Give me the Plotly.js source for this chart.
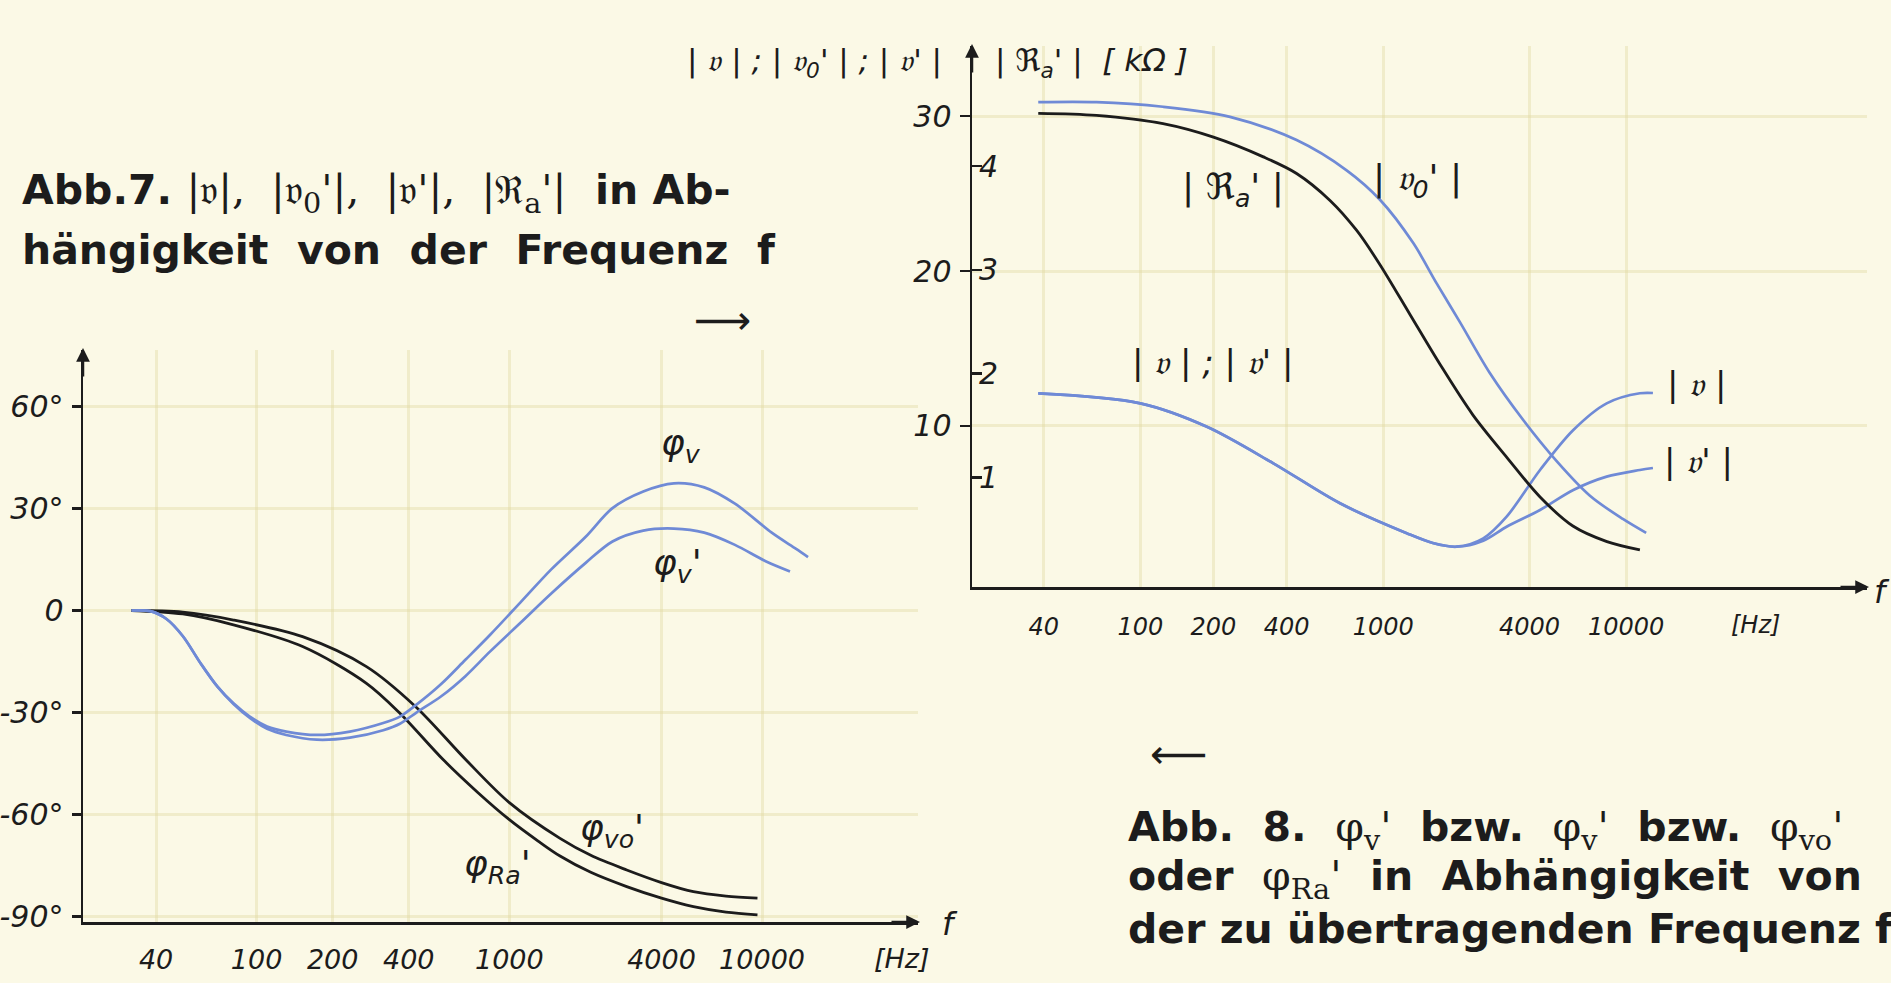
<!DOCTYPE html>
<html>
<head>
<meta charset="utf-8">
<script src="https://cdn.plot.ly/plotly-3.0.1.min.js"></script>
<style>
html,body{margin:0;padding:0;background:#fbf9e6;}
#chart{width:1891px;height:983px;}
</style>
</head>
<body>
<div id="chart"></div>
<script>
// ---------- Abb. 7 (left): phase angles vs frequency ----------
const tickFreqs = [40, 100, 200, 400, 1000, 4000, 10000];
const tickFreqLabels = ['40', '100', '200', '400', '1000', '4000', '10000'];

const phaseTicks = [60, 30, 0, -30, -60, -90];
const phaseTickLabels = ['60°', '30°', '0', '-30°', '-60°', '-90°'];

const fPhiRa = [32, 51, 81, 152, 272, 369, 548, 750, 1000, 1300, 1587, 2100, 2913, 4000, 5350, 7200, 9590];
const phiRa  = [0, -1.0, -4.2, -10.6, -21.4, -30.2, -43.9, -53.5, -61.5, -67.8, -72.2, -77.0, -81.2, -84.6, -87.1, -88.7, -89.5];

const fPhiVo = [32, 51, 81, 152, 272, 426, 673, 1000, 1587, 2100, 2913, 4000, 5350, 7200, 9590];
const phiVo  = [0, -0.5, -2.8, -7.7, -16.5, -28.3, -43.9, -56.5, -67.0, -72.0, -76.3, -80.0, -82.7, -84.0, -84.6];

const fPhiV = [32, 38, 44, 51, 60, 70, 81, 94, 110, 131, 173, 234, 317, 369, 429, 536, 670, 838, 1107, 1465, 2005, 2559, 3388, 4478, 5905, 7811, 10920, 13640, 15200];
const phiV  = [0, -0.2, -2.5, -7.5, -15.5, -22.4, -27.3, -31.2, -34.1, -35.6, -36.6, -35.6, -33.1, -31.2, -27.7, -21.7, -14.5, -7.2, 2.4, 12.1, 21.7, 30.1, 35.0, 37.4, 36.2, 31.4, 22.9, 18.1, 15.7];

const fPhiVp = [32, 38, 44, 51, 60, 70, 81, 94, 110, 131, 173, 234, 317, 369, 429, 536, 670, 838, 1107, 1465, 2005, 2559, 3388, 4478, 5905, 7811, 10330, 12900];
const phiVp  = [0, -0.2, -2.5, -7.5, -15.5, -22.4, -27.5, -31.6, -34.8, -36.6, -38.0, -37.4, -35.2, -33.3, -30.0, -25.3, -19.3, -12.1, -3.6, 5.0, 14.0, 20.3, 23.5, 24.1, 22.9, 19.3, 14.5, 11.5];

// ---------- Abb. 8 (right): magnitudes vs frequency ----------
const gainTicks = [10, 20, 30];
const resTicks = [1, 2, 3, 4];

const fRa = [38, 66, 124, 200, 321, 440, 604, 778, 970, 1289, 1713, 2343, 3234, 4424, 6040, 8340, 11400];
const Ra  = [4.51, 4.49, 4.41, 4.28, 4.09, 3.93, 3.67, 3.38, 3.05, 2.57, 2.09, 1.60, 1.19, 0.81, 0.53, 0.38, 0.30];

const fV0 = [38, 66, 124, 234, 440, 707, 970, 1330, 1660, 2070, 2752, 3765, 5200, 7100, 9700, 12100];
const V0  = [30.9, 30.9, 30.6, 29.95, 28.45, 26.5, 24.6, 21.8, 19.2, 16.7, 13.4, 10.4, 7.7, 5.5, 4.0, 3.1];

const fV = [38, 100, 188, 353, 664, 1250, 1600, 2008, 2583, 3223, 4424, 6065, 8318, 11400, 12900];
const V  = [12.1, 11.46, 9.95, 7.59, 5.01, 3.08, 2.45, 2.21, 2.75, 4.15, 7.16, 9.74, 11.46, 12.11, 12.13];

const fVp = [38, 100, 188, 353, 664, 1250, 1600, 2008, 2583, 3223, 4424, 6065, 8318, 11400, 12900];
const Vp  = [12.1, 11.46, 9.95, 7.59, 5.01, 3.08, 2.45, 2.21, 2.6, 3.5, 4.58, 5.87, 6.73, 7.16, 7.29];

// ---------- layout helpers ----------
const W = 1891, H = 983;
const px = x => x / W;
const py = y => 1 - y / H;

const BLUE = '#6f8ad6';
const INK = '#1c1c1c';
const HAND = 'DejaVu Sans';
const fr = '\u{1D533}'; // Fraktur v

const lineBlue = {color: BLUE, width: 2.7, shape: 'spline', smoothing: 0.9};
const lineBlack = {color: INK, width: 2.8, shape: 'spline', smoothing: 0.9};

const traces = [
  {x: fPhiRa, y: phiRa, xaxis: 'x', yaxis: 'y', mode: 'lines', line: lineBlack, name: 'φRa\''},
  {x: fPhiVo, y: phiVo, xaxis: 'x', yaxis: 'y', mode: 'lines', line: lineBlack, name: 'φvo\''},
  {x: fPhiVp, y: phiVp, xaxis: 'x', yaxis: 'y', mode: 'lines', line: lineBlue, name: 'φv\''},
  {x: fPhiV, y: phiV, xaxis: 'x', yaxis: 'y', mode: 'lines', line: lineBlue, name: 'φv'},
  {x: fRa, y: Ra, xaxis: 'x2', yaxis: 'y3', mode: 'lines', line: lineBlack, name: '|Ra\'|'},
  {x: fV0, y: V0, xaxis: 'x2', yaxis: 'y2', mode: 'lines', line: lineBlue, name: '|v0\'|'},
  {x: fVp, y: Vp, xaxis: 'x2', yaxis: 'y2', mode: 'lines', line: lineBlue, name: '|v\'|'},
  {x: fV, y: V, xaxis: 'x2', yaxis: 'y2', mode: 'lines', line: lineBlue, name: '|v|'}
];

const gridCol = 'rgba(225,218,160,0.4)';
const yTickFont = {family: HAND, size: 30, color: INK, style: 'italic'};
const xTickFontL = {family: HAND, size: 27, color: INK, style: 'italic'};
const xTickFontR = {family: HAND, size: 24, color: INK, style: 'italic'};

const layout = {
  width: W, height: H,
  margin: {l: 0, r: 0, t: 0, b: 0},
  paper_bgcolor: '#fbf9e6',
  plot_bgcolor: 'rgba(0,0,0,0)',
  showlegend: false,
  xaxis: {
    type: 'log', domain: [px(83), px(918)], range: [1.313, 4.617], anchor: 'y',
    showline: true, linecolor: INK, linewidth: 2.5, zeroline: false,
    showgrid: true, gridcolor: gridCol, gridwidth: 3,
    tickvals: tickFreqs, ticktext: tickFreqLabels, ticks: '', ticklabelstandoff: 12,
    tickfont: xTickFontL
  },
  yaxis: {
    domain: [py(922), py(350)], range: [-91.6, 76.6], anchor: 'x',
    showline: true, linecolor: INK, linewidth: 2.5, zeroline: false,
    showgrid: true, gridcolor: gridCol, gridwidth: 3,
    tickvals: phaseTicks, ticktext: phaseTickLabels, ticks: 'outside', ticklen: 9, tickwidth: 2.5, tickcolor: INK,
    ticklabelstandoff: 2, tickfont: yTickFont
  },
  xaxis2: {
    type: 'log', domain: [px(972), px(1867)], range: [1.307, 4.992], anchor: 'y2',
    showline: true, linecolor: INK, linewidth: 2.5, zeroline: false,
    showgrid: true, gridcolor: gridCol, gridwidth: 3,
    tickvals: tickFreqs, ticktext: tickFreqLabels, ticks: '', ticklabelstandoff: 17,
    tickfont: xTickFontR
  },
  yaxis2: {
    domain: [py(587), py(46)], range: [-0.39, 34.52], anchor: 'x2',
    showline: true, linecolor: INK, linewidth: 2.5, zeroline: false,
    showgrid: true, gridcolor: gridCol, gridwidth: 3,
    tickvals: gainTicks, ticks: 'outside', ticklen: 10, tickwidth: 2.5, tickcolor: INK,
    ticklabelstandoff: 2, tickfont: yTickFont
  },
  yaxis3: {
    domain: [py(587), py(46)], range: [-0.058, 5.159], anchor: 'x2', overlaying: 'y2', side: 'left',
    showline: false, zeroline: false, showgrid: false,
    tickvals: resTicks, ticks: 'inside', ticklen: 10, tickwidth: 2.5, tickcolor: INK,
    ticklabelposition: 'inside', tickfont: yTickFont
  },
  annotations: [],
  font: {family: HAND, color: INK}
};

const A = layout.annotations;
function label(text, x, y, size, opts) {
  A.push(Object.assign({
    text: text, xref: 'paper', yref: 'paper', x: px(x), y: py(y),
    showarrow: false, xanchor: 'center', yanchor: 'middle',
    font: {family: HAND, size: size, color: INK, style: 'italic'}
  }, opts || {}));
}
function arrow(x, y, ax, ay) {
  A.push({text: '', xref: 'paper', yref: 'paper', x: px(x), y: py(y), ax: ax, ay: ay,
    showarrow: true, arrowhead: 2, arrowsize: 1.1, arrowwidth: 2.5, arrowcolor: INK});
}

// axis arrows
arrow(83, 348, 0, 30);
arrow(920, 922, -30, 0);
arrow(972, 44, 0, 30);
arrow(1869, 587, -30, 0);

// axis letters
label('f', 950, 924, 32);
label('f', 1882, 592, 32);
label('[Hz]', 902, 958, 27);
label('[Hz]', 1755, 625, 24);

// curve labels, left chart
label('φ<sub>v</sub>', 681, 446, 36);
label('φ<sub>v</sub>\'', 677, 565, 36);
label('φ<sub>vo</sub>\'', 612, 830, 36);
label('φ<sub>Ra</sub>\'', 498, 866, 36);

// right chart labels
label('| ' + fr + ' | ; | ' + fr + '<sub>0</sub>\' | ; | ' + fr + '\' |', 814, 62, 31);
label('| ℜ<sub>a</sub>\' |  [ kΩ ]', 1091, 62, 31);
label('| ℜ<sub>a</sub>\' |', 1233, 190, 36);
label('| ' + fr + '<sub>0</sub>\' |', 1417, 181, 36);
label('| ' + fr + ' | ; | ' + fr + '\' |', 1212, 362, 34);
label('| ' + fr + ' |', 1697, 384, 34);
label('| ' + fr + '\' |', 1698, 461, 34);

// captions
const capFont = {family: 'DejaVu Sans', size: 41, color: INK, weight: 'bold'};
function caption(text, x, y) {
  A.push({text: text, xref: 'paper', yref: 'paper', x: px(x), y: py(y), showarrow: false,
    xanchor: 'left', yanchor: 'middle', font: capFont});
}
const nf = s => '<span style="font-weight:normal;font-family:DejaVu Serif">' + s + '</span>';
caption('Abb.7. ' + nf('|' + fr + '|,  |' + fr + '<sub>0</sub>\'|,  |' + fr + '\'|,  |ℜ<sub>a</sub>\'|') + '  in Ab-', 20, 193);
caption('hängigkeit  von  der  Frequenz  f', 20, 250);
label('⟶', 722, 320, 40, {font: {family: 'DejaVu Sans', size: 40, color: INK}});

label('⟵', 1178, 754, 40, {font: {family: 'DejaVu Sans', size: 40, color: INK}});
caption('Abb.  8.  ' + nf('φ<sub>v</sub>\'') + '  bzw.  ' + nf('φ<sub>v</sub>\'') + '  bzw.  ' + nf('φ<sub>vo</sub>\''), 1126, 830);
caption('oder  ' + nf('φ<sub>Ra</sub>\'') + '  in  Abhängigkeit  von', 1126, 879);
caption('der zu übertragenden Frequenz f', 1126, 929);

Plotly.newPlot('chart', traces, layout, {displayModeBar: false, staticPlot: true});
</script>
</body>
</html>
